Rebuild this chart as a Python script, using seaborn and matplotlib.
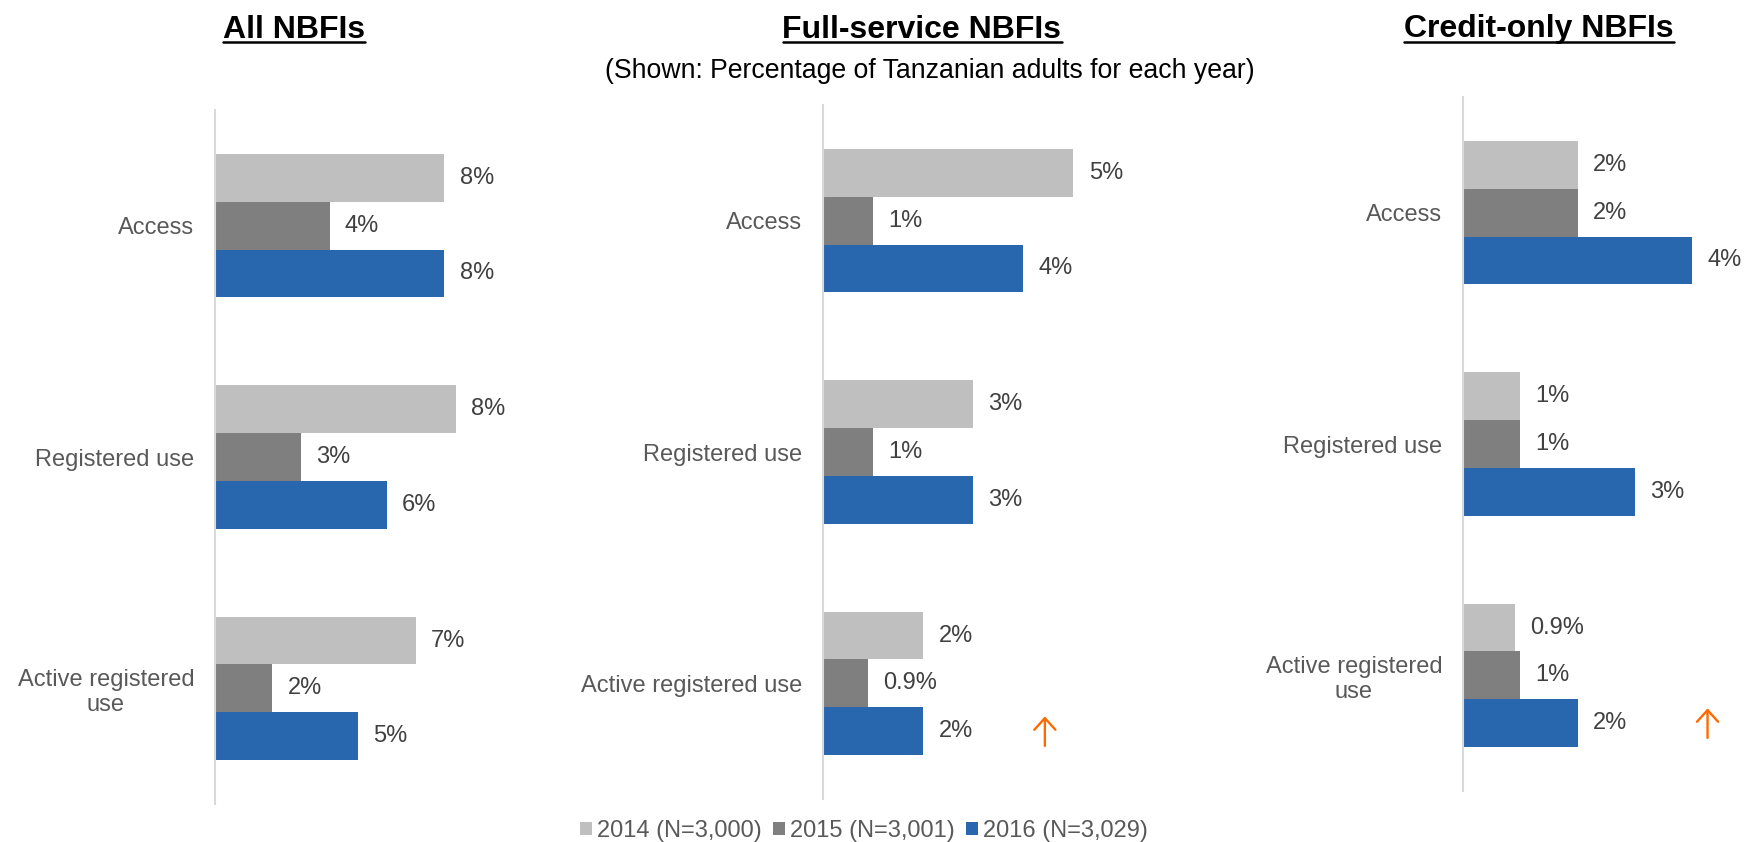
import matplotlib
matplotlib.use("Agg")
import matplotlib.pyplot as plt
from matplotlib.patches import Patch
import seaborn as sns
import pandas as pd

# ---- data (percentage of Tanzanian adults) ----
categories = ["Access", "Registered use", "Active registered use"]
years = ["2014 (N=3,000)", "2015 (N=3,001)", "2016 (N=3,029)"]

all_2014 = [8.0, 8.4, 7.0]
all_2015 = [4.0, 3.0, 2.0]
all_2016 = [8.0, 6.0, 5.0]

full_2014 = [5.0, 3.0, 2.0]
full_2015 = [1.0, 1.0, 0.9]
full_2016 = [4.0, 3.0, 2.0]

credit_2014 = [2.0, 1.0, 0.9]
credit_2015 = [2.0, 1.0, 1.0]
credit_2016 = [4.0, 3.0, 2.0]

panel_titles = ["All NBFIs", "Full-service NBFIs", "Credit-only NBFIs"]
subtitle = "(Shown: Percentage of Tanzanian adults for each year)"
tick_labels = [
    ["Access", "Registered use", "Active registered\nuse"],
    ["Access", "Registered use", "Active registered use"],
    ["Access", "Registered use", "Active registered\nuse"],
]
year_colors = ["#bfbfbf", "#7f7f7f", "#2866ae"]
arrow_color = "#ff6a00"


def long_frame(v2014, v2015, v2016):
    rows = []
    for year, vals in zip(years, [v2014, v2015, v2016]):
        for cat, v in zip(categories, vals):
            rows.append({"category": cat, "year": year, "value": v})
    return pd.DataFrame(rows)


frames = [
    long_frame(all_2014, all_2015, all_2016),
    long_frame(full_2014, full_2015, full_2016),
    long_frame(credit_2014, credit_2015, credit_2016),
]


def pct(v):
    return f"{v:.1f}%" if v < 1 else f"{v:.0f}%"


sns.set_theme(style="white")
plt.rcParams["font.family"] = ["Liberation Sans", "DejaVu Sans"]

W, H = 1745, 842
fig = plt.figure(figsize=(W / 100, H / 100), dpi=100)

# axes placement in pixels: left, top, width, height, x-limit
layouts = [
    (215, 110, 300, 694, 10.47),
    (823, 105, 300, 694, 5.99),
    (1463, 97, 260, 694, 4.54),
]

axes = []
for i, (df, (lx, ty, wd, ht, xmax)) in enumerate(zip(frames, layouts)):
    ax = fig.add_axes([lx / W, 1 - (ty + ht) / H, wd / W, ht / H])
    sns.barplot(
        data=df, y="category", x="value", hue="year", orient="h",
        order=categories, hue_order=years, palette=year_colors,
        width=0.62, gap=0, saturation=1, legend=False, ax=ax,
        linewidth=0,
    )
    ax.set_xlim(0, xmax)
    ax.set_ylim(2.5, -0.5)
    ax.set_xlabel("")
    ax.set_ylabel("")
    ax.set_xticks([])
    ax.set_yticks(range(len(categories)))
    ax.set_yticklabels(tick_labels[i])
    for lab in ax.get_yticklabels():
        lab.set_multialignment("center")
    ax.tick_params(axis="y", length=0, pad=15, labelsize=17, labelcolor="#595959")
    for side in ["top", "right", "bottom"]:
        ax.spines[side].set_visible(False)
    ax.spines["left"].set_color("#d9d9d9")
    ax.spines["left"].set_linewidth(1.5)
    for cont in ax.containers:
        ax.bar_label(cont, labels=[pct(v) for v in cont.datavalues],
                     padding=11, fontsize=17, color="#404040")
    axes.append(ax)

# growth arrows beside the 2016 active-use bars
bar_off = 0.62 / 3
for ax, ax_x in [(axes[1], 4.43), (axes[2], 4.27)]:
    yc = 2 + bar_off
    ax.annotate("", xy=(ax_x, yc - 0.064), xytext=(ax_x, yc + 0.064),
                arrowprops=dict(arrowstyle="->,head_length=0.42,head_width=0.38",
                                color=arrow_color, lw=1.7,
                                mutation_scale=20, shrinkA=0, shrinkB=0),
                annotation_clip=False)

# panel titles, bold and underlined
title_x = [294, 922, 1539]
fig.canvas.draw()
renderer = fig.canvas.get_renderer()
for text, cx in zip(panel_titles, title_x):
    t = fig.text(cx / W, 1 - 37.5 / H, text, ha="center", va="baseline",
                 fontsize=23, fontweight="bold", color="black")
    bb = t.get_window_extent(renderer=renderer)
    y_line = 1 - 42 / H
    fig.add_artist(plt.Line2D([bb.x0 / W, bb.x1 / W], [y_line, y_line],
                              color="black", lw=1.8, transform=fig.transFigure))

fig.text(930 / W, 1 - 78 / H, subtitle, ha="center", va="baseline",
         fontsize=19.2, color="black")

handles = [Patch(facecolor=c, edgecolor="none") for c in year_colors]
fig.legend(handles, years, loc="center", bbox_to_anchor=(864 / W, 1 - 831 / H),
           ncol=3, frameon=False, fontsize=17, labelcolor="#595959",
           handlelength=0.5, handleheight=0.5, handletextpad=0.22,
           columnspacing=0.48, borderaxespad=0, borderpad=0)

fig.savefig("out.png", dpi=100, facecolor="white")
